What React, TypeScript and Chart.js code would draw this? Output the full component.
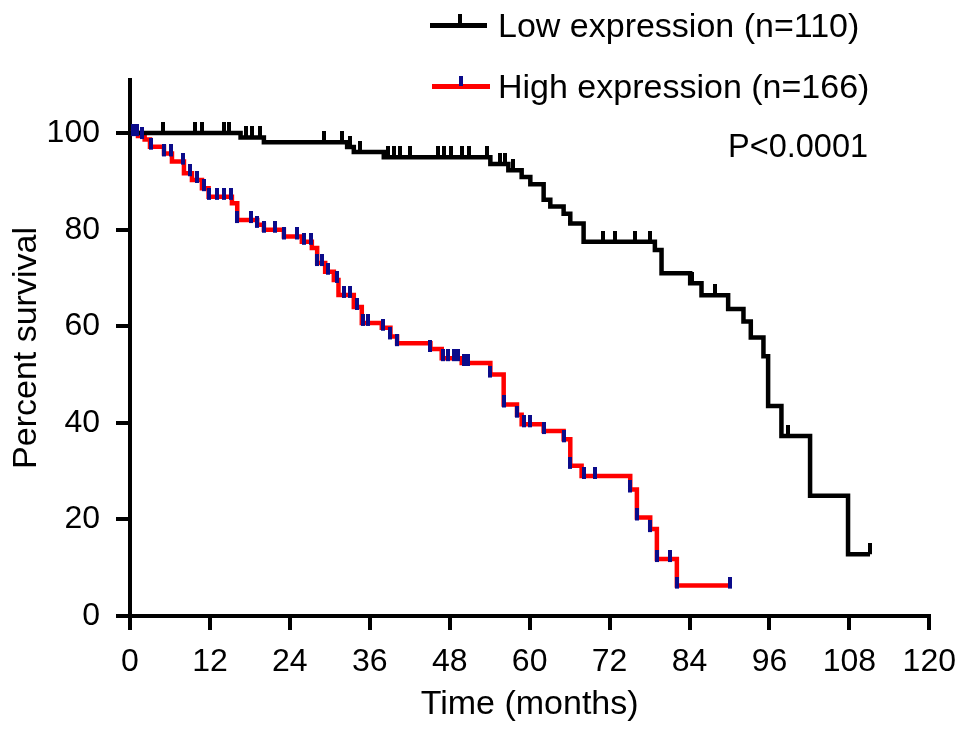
import React, { useEffect, useRef } from "react";
import { Chart, registerables } from "chart.js";

Chart.register(...registerables);

// Kaplan-Meier steps: time (months) where survival drops, and the value after it
const lowTimes = [0, 16.6, 20.1, 32.6, 33.6, 38.1, 54.1, 56.8, 58.8, 60.1, 62.1, 63.1, 65.1, 66.1, 68.1, 78.8, 79.8, 84.1, 85.8, 89.8, 92.1, 93.2, 95.1, 95.8, 97.8, 102.1, 107.8, 111.1];
const lowSurvival = [100, 99.1, 98.1, 97.1, 96.1, 95.0, 93.6, 92.3, 90.9, 89.4, 86.2, 84.8, 83.3, 81.3, 77.5, 75.8, 71.0, 68.9, 66.4, 63.6, 61.0, 57.7, 53.8, 43.5, 37.3, 24.9, 12.8, 12.8];
const lowCensored = [5.0, 9.8, 10.8, 14.1, 14.8, 17.4, 18.3, 19.5, 29.1, 31.8, 33.0, 34.6, 38.8, 39.7, 40.6, 42.1, 46.2, 47.2, 48.2, 49.8, 50.9, 53.6, 55.6, 56.3, 57.5, 71.0, 72.8, 75.8, 78.1, 84.3, 87.8, 98.8, 111.1];

const highTimes = [0, 1.2, 2.2, 3.0, 5.1, 6.3, 8.1, 9.3, 10.8, 11.8, 15.3, 16.1, 19.1, 20.1, 23.1, 25.8, 27.3, 28.1, 29.3, 30.6, 31.3, 33.6, 34.8, 37.8, 39.1, 40.1, 45.1, 46.8, 49.8, 54.1, 56.1, 58.1, 58.8, 62.1, 65.1, 66.1, 67.8, 75.1, 76.1, 78.1, 79.1, 82.1, 90.1];
const highSurvival = [100, 99.4, 98.7, 97.2, 95.8, 94.1, 91.7, 90.3, 88.6, 86.8, 85.5, 82.0, 81.0, 80.0, 78.6, 77.5, 76.2, 73.1, 71.3, 69.6, 66.5, 64.0, 60.7, 59.7, 57.9, 56.5, 55.3, 53.4, 52.4, 50.0, 43.8, 41.7, 39.7, 38.3, 36.6, 31.1, 29.0, 26.2, 20.4, 18.0, 11.8, 6.3, 6.3];
const highCensored = [0.5, 1.0, 1.8, 3.1, 5.1, 6.1, 7.9, 9.0, 10.1, 11.1, 11.9, 13.1, 14.1, 15.1, 16.1, 18.1, 19.1, 20.1, 21.8, 23.1, 25.1, 26.1, 27.1, 28.1, 28.8, 29.8, 31.1, 32.1, 33.1, 34.1, 35.0, 35.8, 38.0, 39.1, 40.1, 45.1, 47.0, 47.8, 48.6, 49.3, 50.1, 50.8, 54.1, 56.1, 58.1, 59.1, 60.1, 62.1, 65.1, 66.1, 68.1, 69.8, 75.1, 76.1, 78.1, 79.1, 81.1, 82.1, 90.1];

const xTicks = [0, 12, 24, 36, 48, 60, 72, 84, 96, 108, 120];
const yTicks = [0, 20, 40, 60, 80, 100];

const seriesLabels = ["Low expression (n=110)", "High expression (n=166)"];
const pValueText = "P<0.0001";

const FONT = "'Liberation Sans', Arial, Helvetica, sans-serif";
const RED = "#ff0000";
const NAVY = "#0b0b8a";

// survival value of the step curve at time t
const survivalAt = (times: number[], surv: number[], t: number) => {
  let v = surv[0];
  for (let i = 0; i < times.length; i++) if (times[i] <= t) v = surv[i];
  return v;
};

// small vertical bar used as censor mark (sits on top of the curve)
const makeTick = (color: string, w: number, above: number, below: number) => {
  const c = document.createElement("canvas");
  c.width = w;
  c.height = above * 2;
  const ctx = c.getContext("2d");
  if (ctx) {
    ctx.fillStyle = color;
    ctx.fillRect(0, 0, w, above + below);
  }
  return c;
};

const annotations = {
  id: "kmAnnotations",
  afterDraw(chart: Chart) {
    const ctx = chart.ctx;
    ctx.save();
    // legend row 1
    ctx.fillStyle = "#000";
    ctx.fillRect(430, 23, 57, 5);
    ctx.fillRect(458, 14, 4, 11);
    // legend row 2
    ctx.fillStyle = RED;
    ctx.fillRect(432, 84, 58, 5);
    ctx.fillStyle = NAVY;
    ctx.fillRect(459, 76, 4, 10);

    ctx.fillStyle = "#000";
    ctx.font = `34px ${FONT}`;
    ctx.textAlign = "left";
    ctx.textBaseline = "alphabetic";
    ctx.fillText(seriesLabels[0], 498, 37);
    ctx.fillText(seriesLabels[1], 498, 98);
    ctx.font = `32.5px ${FONT}`;
    ctx.fillText(pValueText, 728, 157);
    ctx.restore();
  },
};

const App: React.FC = () => {
  const canvasRef = useRef<HTMLCanvasElement>(null);
  const chartRef = useRef<Chart | null>(null);

  useEffect(() => {
    if (!canvasRef.current) return;
    const ctx = canvasRef.current.getContext("2d");
    if (!ctx) return;

    if (chartRef.current) chartRef.current.destroy();

    const blackTick = makeTick("#000", 4, 11, 0);
    const blueTick = makeTick(NAVY, 4, 9, 3);

    const toPoints = (times: number[], surv: number[]) => times.map((t, i) => ({ x: t, y: surv[i] }));
    const censorPoints = (cens: number[], times: number[], surv: number[]) =>
      cens.map((t) => ({ x: t, y: survivalAt(times, surv, t) }));

    chartRef.current = new Chart(ctx, {
      type: "scatter",
      data: {
        datasets: [
          {
            label: "low-censor",
            data: censorPoints(lowCensored, lowTimes, lowSurvival),
            pointStyle: blackTick as any,
            pointRadius: 5,
            showLine: false,
            order: 0,
            clip: false as any,
          },
          {
            label: "high-censor",
            data: censorPoints(highCensored, highTimes, highSurvival),
            pointStyle: blueTick as any,
            pointRadius: 5,
            showLine: false,
            order: 0,
            clip: false as any,
          },
          {
            label: seriesLabels[0],
            data: toPoints(lowTimes, lowSurvival),
            showLine: true,
            stepped: true,
            borderColor: "#000",
            borderWidth: 4.5,
            pointRadius: 0,
            order: 1,
            clip: false as any,
          },
          {
            label: seriesLabels[1],
            data: toPoints(highTimes, highSurvival),
            showLine: true,
            stepped: true,
            borderColor: RED,
            borderWidth: 4.5,
            pointRadius: 0,
            order: 2,
            clip: false as any,
          },
        ],
      },
      options: {
        animation: false,
        responsive: true,
        maintainAspectRatio: false,
        events: [],
        layout: { padding: { top: 80, right: 39, bottom: 0, left: 0 } },
        plugins: {
          legend: { display: false },
          tooltip: { enabled: false },
          title: { display: false },
        },
        scales: {
          x: {
            type: "linear",
            min: 0,
            max: 120,
            afterBuildTicks: (scale: any) => {
              scale.ticks = xTicks.map((v) => ({ value: v }));
            },
            afterFit: (scale: any) => {
              scale.height = 119;
            },
            border: { display: true, color: "#000", width: 4 },
            grid: { drawOnChartArea: false, color: "#000", lineWidth: 4, tickLength: 14 },
            ticks: { color: "#000", font: { family: FONT, size: 32 }, padding: 13, maxRotation: 0 },
            title: {
              display: true,
              text: "Time (months)",
              color: "#000",
              font: { family: FONT, size: 34 },
              padding: { top: 0, bottom: 10 },
            },
          },
          y: {
            type: "linear",
            min: 0,
            max: 111,
            afterBuildTicks: (scale: any) => {
              scale.ticks = yTicks.map((v) => ({ value: v }));
            },
            afterFit: (scale: any) => {
              scale.width = 130;
            },
            border: { display: true, color: "#000", width: 4 },
            grid: { drawOnChartArea: false, color: "#000", lineWidth: 4, tickLength: 14 },
            ticks: { color: "#000", font: { family: FONT, size: 32 }, padding: 16 },
            title: {
              display: true,
              text: "Percent survival",
              color: "#000",
              font: { family: FONT, size: 34 },
              padding: { top: 6, bottom: 0 },
            },
          },
        },
      },
      plugins: [annotations],
    });

    return () => {
      if (chartRef.current) {
        chartRef.current.destroy();
        chartRef.current = null;
      }
    };
  }, []);

  return (
    <div style={{ position: "fixed", left: 0, top: 0, width: 969, height: 735, background: "#fff" }}>
      <canvas ref={canvasRef}></canvas>
    </div>
  );
};

export default App;
